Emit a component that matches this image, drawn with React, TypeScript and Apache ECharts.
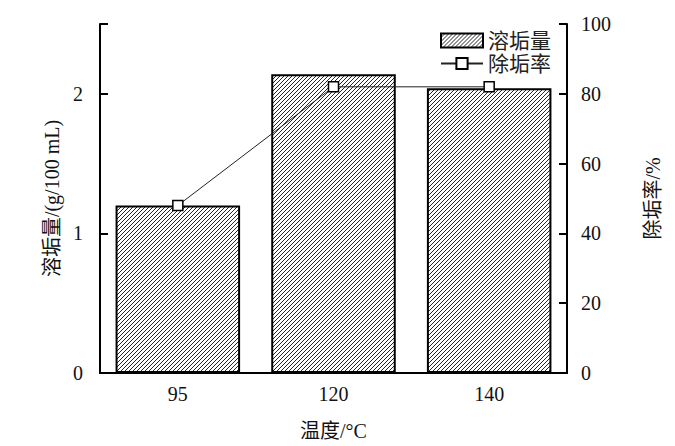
import React, { useEffect, useRef } from "react";
import * as echarts from "echarts";

const categories = ["95", "120", "140"];
const scaleAmount = [1.2, 2.14, 2.04];
const removalRate = [48, 82, 82];
const leftTicks = [0, 1, 2];
const rightTicks = [0, 20, 40, 60, 80, 100];

const NUM_FONT = "'Liberation Serif', 'Noto Sans CJK SC', serif";

function makeHatch(): string {
  const s = 4;
  const c = document.createElement("canvas");
  c.width = s;
  c.height = s;
  const ctx = c.getContext("2d")!;
  ctx.fillStyle = "#fff";
  ctx.fillRect(0, 0, s, s);
  ctx.strokeStyle = "#000";
  ctx.lineWidth = 0.85;
  ctx.beginPath();
  ctx.moveTo(0, s);
  ctx.lineTo(s, 0);
  ctx.moveTo(-1, 1);
  ctx.lineTo(1, -1);
  ctx.moveTo(s - 1, s + 1);
  ctx.lineTo(s + 1, s - 1);
  ctx.stroke();
  return c.toDataURL();
}

export default function App() {
  const ref = useRef<HTMLDivElement>(null);
  useEffect(() => {
    document.body.style.margin = "0";
    if (!ref.current) return;
    const chart = echarts.init(ref.current, null, { renderer: "svg" });
    const hatch = { image: makeHatch(), repeat: "repeat" as const };
    const axisLabelStyle = { fontFamily: NUM_FONT, fontSize: 20, color: "#111" };
    const nameStyle = { fontFamily: NUM_FONT, fontSize: 20, color: "#111" };
    chart.setOption({
      animation: false,
      backgroundColor: "#fff",
      grid: { left: 100, right: 108, top: 24, bottom: 70, containLabel: false },
      legend: {
        orient: "vertical",
        left: 435,
        top: 25,
        itemWidth: 42,
        itemHeight: 14,
        itemGap: 2,
        textStyle: { fontFamily: NUM_FONT, fontSize: 21, lineHeight: 21, color: "#222" },
        data: [
          { name: "溶垢量", icon: "rect" },
          { name: "除垢率" },
        ],
      },
      xAxis: [
        {
          type: "category",
          data: categories,
          position: "bottom",
          name: "温度/°C",
          nameLocation: "middle",
          nameGap: 48,
          nameTextStyle: nameStyle,
          axisLine: { lineStyle: { color: "#000", width: 2 } },
          axisTick: { show: false },
          axisLabel: { ...axisLabelStyle, margin: 11 },
        },
        {
          type: "category",
          data: categories,
          position: "top",
          axisLine: { lineStyle: { color: "#000", width: 2 } },
          axisTick: { show: false },
          axisLabel: { show: false },
        },
      ],
      yAxis: [
        {
          type: "value",
          min: 0,
          max: 2.5,
          interval: 1,
          position: "left",
          name: "溶垢量/(g/100 mL)",
          nameLocation: "middle",
          nameGap: 36,
          nameRotate: 90,
          nameTextStyle: nameStyle,
          axisLine: { show: true, lineStyle: { color: "#000", width: 2 } },
          axisTick: { show: true, inside: true, length: 8, lineStyle: { color: "#000", width: 2 } },
          axisLabel: {
            ...axisLabelStyle,
            margin: 17,
            formatter: (v: number) => (leftTicks.includes(v) ? String(v) : ""),
          },
          splitLine: { show: false },
        },
        {
          type: "value",
          min: 0,
          max: 100,
          interval: 20,
          position: "right",
          name: "除垢率/%",
          nameLocation: "middle",
          nameGap: 76,
          nameRotate: 90,
          nameTextStyle: nameStyle,
          axisLine: { show: true, lineStyle: { color: "#000", width: 2 } },
          axisTick: { show: true, inside: true, length: 8, lineStyle: { color: "#000", width: 2 } },
          axisLabel: {
            ...axisLabelStyle,
            margin: 14,
            formatter: (v: number) => (rightTicks.includes(v) ? String(v) : ""),
          },
          splitLine: { show: false },
        },
      ],
      series: [
        {
          name: "溶垢量",
          type: "bar",
          xAxisIndex: 0,
          yAxisIndex: 0,
          data: scaleAmount,
          barWidth: "80%",
          itemStyle: { color: hatch, borderColor: "#000", borderWidth: 2 },
        },
        {
          name: "除垢率",
          type: "line",
          xAxisIndex: 0,
          yAxisIndex: 1,
          data: removalRate,
          symbol: "rect",
          symbolSize: 10,
          lineStyle: { color: "#222", width: 1 },
          itemStyle: { color: "#fff", borderColor: "#000", borderWidth: 1.5 },
          z: 5,
        },
      ],
    });
    return () => chart.dispose();
  }, []);
  return <div ref={ref} style={{ width: 675, height: 446 }} />;
}
